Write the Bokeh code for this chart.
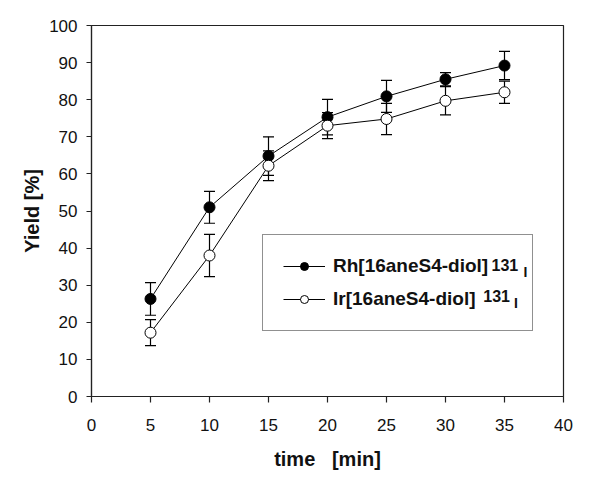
from bokeh.plotting import figure
from bokeh.models import (ColumnDataSource, Range1d, FixedTicker, Whisker, TeeHead,
                          Legend, LegendItem, Label)
from bokeh.embed import file_html
from bokeh.resources import INLINE

# ---- data ----
times = [5, 10, 15, 20, 25, 30, 35]
rh_yield = [26.3, 51.0, 64.8, 75.3, 80.9, 85.5, 89.2]
rh_err = [4.4, 4.3, 5.2, 4.8, 4.3, 1.8, 3.8]
ir_yield = [17.2, 38.0, 62.2, 73.0, 74.8, 79.7, 82.0]
ir_err = [3.5, 5.7, 4.0, 3.5, 4.2, 3.8, 3.0]
x_ticks = [0, 5, 10, 15, 20, 25, 30, 35, 40]
y_ticks = [0, 10, 20, 30, 40, 50, 60, 70, 80, 90, 100]
rh_name = "Rh[16aneS4-diol]"
ir_name = "Ir[16aneS4-diol]"
iso_mass = "131"
iso_sym = "I"

FONT = "Liberation Sans"

p = figure(frame_width=472, frame_height=371, output_backend="svg", toolbar_location=None,
           x_range=Range1d(0, 40), y_range=Range1d(0, 100),
           min_border_left=91, min_border_right=30, min_border_top=25, min_border_bottom=79,
           background_fill_color="white", border_fill_color="white")
p.grid.visible = False
p.outline_line_color = "#222222"
p.outline_line_width = 1.2

for ax in (p.xaxis[0], p.yaxis[0]):
    ax.axis_line_color = "#222222"
    ax.axis_line_width = 1.2
    ax.major_tick_line_color = "#222222"
    ax.major_tick_line_width = 1.2
    ax.minor_tick_line_color = None
    ax.major_tick_in = 0
    ax.major_label_text_font = FONT
    ax.major_label_text_font_size = "17px"
    ax.major_label_text_color = "#111111"
    ax.axis_label_text_font = FONT
    ax.axis_label_text_font_size = "20px"
    ax.axis_label_text_font_style = "bold"
    ax.axis_label_text_color = "#111111"

p.xaxis.ticker = FixedTicker(ticks=x_ticks)
p.yaxis.ticker = FixedTicker(ticks=y_ticks)
p.xaxis.major_tick_out = 6
p.yaxis.major_tick_out = 5
p.xaxis.major_label_standoff = 16
p.yaxis.major_label_standoff = 9
p.xaxis.axis_label = "time\u00a0\u00a0\u00a0[min]"
p.yaxis.axis_label = "Yield\u00a0[%]"
p.xaxis.axis_label_standoff = 14
p.yaxis.axis_label_standoff = 3

rh_src = ColumnDataSource(dict(x=times, y=rh_yield,
                               lo=[v - e for v, e in zip(rh_yield, rh_err)],
                               hi=[v + e for v, e in zip(rh_yield, rh_err)]))
ir_src = ColumnDataSource(dict(x=times, y=ir_yield,
                               lo=[v - e for v, e in zip(ir_yield, ir_err)],
                               hi=[v + e for v, e in zip(ir_yield, ir_err)]))

rh_line = p.line("x", "y", source=rh_src, line_color="black", line_width=1)
ir_line = p.line("x", "y", source=ir_src, line_color="black", line_width=1)

for src in (rh_src, ir_src):
    w = Whisker(source=src, base="x", lower="lo", upper="hi",
                line_color="black", line_width=1.2,
                upper_head=TeeHead(size=11, line_color="black", line_width=1.2),
                lower_head=TeeHead(size=11, line_color="black", line_width=1.2))
    p.add_layout(w)

rh_pts = p.scatter("x", "y", source=rh_src, size=11, marker="circle",
                   fill_color="black", line_color="black", line_width=1)
ir_pts = p.scatter("x", "y", source=ir_src, size=11, marker="circle",
                   fill_color="white", line_color="black", line_width=1)

legend = Legend(items=[LegendItem(label=rh_name, renderers=[rh_line, rh_pts]),
                       LegendItem(label=ir_name, renderers=[ir_line, ir_pts])],
                location=(171, 65), margin=0, padding=20, spacing=11,
                glyph_width=42, glyph_height=20, label_height=20, label_width=179,
                label_standoff=8,
                label_text_font=FONT, label_text_font_size="19px",
                label_text_font_style="bold", label_text_color="#111111",
                border_line_color="#222222", border_line_width=1.5,
                background_fill_alpha=0)
p.add_layout(legend, "center")

# superscript isotope labels next to legend entries
for (xs, ys, xi, yi) in [(33.9, 35.4, 36.6, 33.6), (33.2, 27.0, 35.8, 25.2)]:
    p.add_layout(Label(x=xs, y=ys, text=iso_mass, text_font=FONT, text_font_size="16px",
                       text_font_style="bold", text_color="#111111",
                       text_baseline="middle"))
    p.add_layout(Label(x=xi, y=yi, text=iso_sym, text_font=FONT, text_font_size="14px",
                       text_font_style="bold", text_color="#111111",
                       text_baseline="middle"))

open("out.html", "w").write(file_html(p, INLINE))
